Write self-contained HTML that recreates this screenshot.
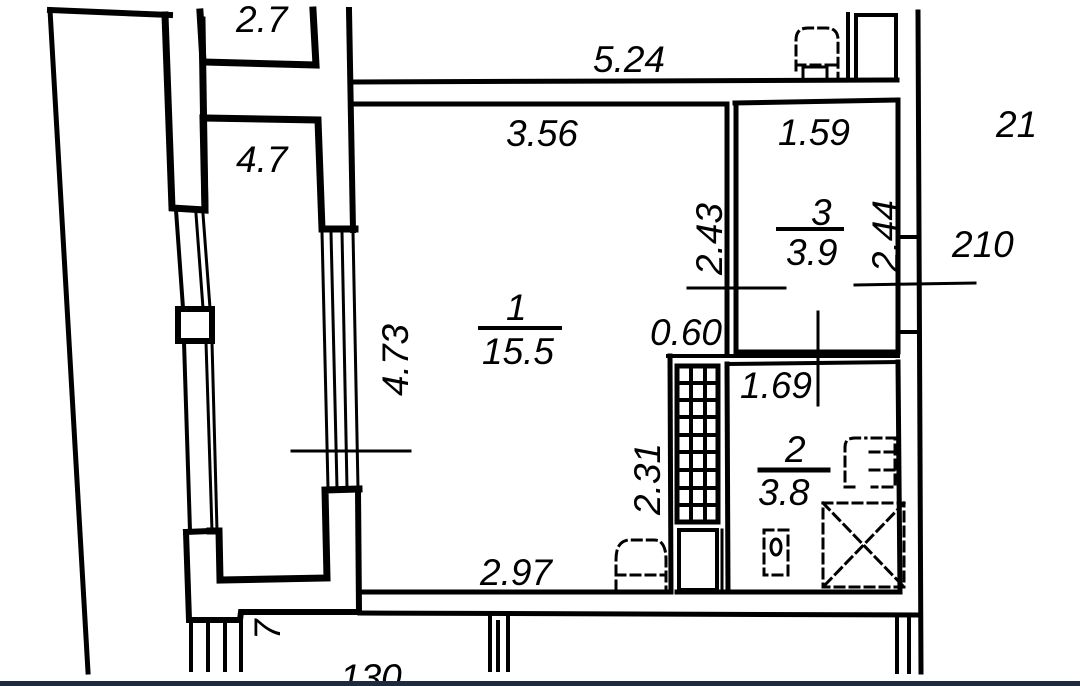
<!DOCTYPE html>
<html><head><meta charset="utf-8"><style>
html,body{margin:0;padding:0;background:#fff;}
svg{display:block}
text{font-family:"Liberation Sans",sans-serif;font-style:italic;font-size:37px;fill:#000}
</style></head><body>
<svg width="1080" height="686" viewBox="0 0 1080 686" xmlns="http://www.w3.org/2000/svg">
<rect width="1080" height="686" fill="#fff"/>
<g stroke="#000" fill="none" stroke-linecap="square">
<line x1="50" y1="10" x2="88" y2="672" stroke-width="5"/>
<line x1="50" y1="10" x2="170" y2="15" stroke-width="6"/>
<polyline points="165,15 172,208 205,210 202,20" stroke-width="7"/>
<line x1="176" y1="210" x2="183" y2="308" stroke-width="4"/>
<line x1="196" y1="214" x2="203" y2="308" stroke-width="3"/>
<line x1="203" y1="214" x2="210" y2="308" stroke-width="3"/>
<rect x="178" y="309" width="34" height="32" stroke-width="6"/>
<line x1="184" y1="342" x2="190" y2="531" stroke-width="4"/>
<line x1="206" y1="342" x2="212" y2="531" stroke-width="3"/>
<line x1="212" y1="342" x2="217" y2="531" stroke-width="3"/>
<polyline points="186,532 189,620 240,620 241,612 359,612 358,490" stroke-width="6"/>
<line x1="186" y1="532" x2="210" y2="531" stroke-width="6"/>
<polyline points="210,531 219,531 220,580 327,578 325,490 359,489" stroke-width="7"/>
<polyline points="200,12 203,62 316,65 313,10" stroke-width="7"/>
<polyline points="205,210 203,118 318,120 322,229 355,229" stroke-width="7"/>
<line x1="349" y1="10" x2="353" y2="230" stroke-width="6"/>
<line x1="322" y1="232" x2="328" y2="488" stroke-width="3"/>
<line x1="331" y1="232" x2="337" y2="488" stroke-width="3"/>
<line x1="342" y1="232" x2="347" y2="488" stroke-width="3"/>
<line x1="353" y1="232" x2="358" y2="488" stroke-width="3"/>
<line x1="353" y1="82" x2="897" y2="80" stroke-width="5"/>
<line x1="353" y1="104" x2="727" y2="104" stroke-width="5"/>
<line x1="735" y1="103" x2="897" y2="100" stroke-width="5"/>
<line x1="918" y1="12" x2="921" y2="672" stroke-width="5"/>
<line x1="898" y1="100" x2="898" y2="352" stroke-width="5"/>
<line x1="898" y1="362" x2="900" y2="592" stroke-width="5"/>
<line x1="898" y1="237" x2="918" y2="237" stroke-width="4"/>
<line x1="898" y1="332" x2="918" y2="332" stroke-width="4"/>
<line x1="848" y1="14" x2="848" y2="80" stroke-width="4"/>
<rect x="856" y="15" width="40" height="65" stroke-width="4"/>
<line x1="727" y1="104" x2="727" y2="352" stroke-width="5"/>
<line x1="736" y1="103" x2="736" y2="352" stroke-width="5"/>
<line x1="736" y1="352" x2="898" y2="352" stroke-width="5"/>
<line x1="668" y1="356" x2="898" y2="356" stroke-width="4"/>
<line x1="727" y1="364" x2="898" y2="362" stroke-width="4"/>
<line x1="670" y1="356" x2="671" y2="592" stroke-width="5"/>
<line x1="727" y1="364" x2="728" y2="592" stroke-width="5"/>
<line x1="362" y1="592" x2="668" y2="592" stroke-width="5"/>
<line x1="677" y1="592" x2="900" y2="592" stroke-width="5"/>
<line x1="360" y1="613" x2="918" y2="615" stroke-width="5"/>
<rect x="677" y="366" width="41" height="156" stroke-width="5"/>
<g stroke-width="4">
<line x1="691" y1="366" x2="691" y2="522"/><line x1="705" y1="366" x2="705" y2="522"/>
<line x1="677" y1="383" x2="718" y2="383"/><line x1="677" y1="400" x2="718" y2="400"/>
<line x1="677" y1="417" x2="718" y2="417"/><line x1="677" y1="435" x2="718" y2="435"/>
<line x1="677" y1="452" x2="718" y2="452"/><line x1="677" y1="470" x2="718" y2="470"/>
<line x1="677" y1="488" x2="718" y2="488"/><line x1="677" y1="505" x2="718" y2="505"/>
</g>
<rect x="679" y="530" width="38" height="60" stroke-width="4"/>
<line x1="722" y1="530" x2="722" y2="592" stroke-width="3"/>
<g stroke-width="4">
<line x1="191" y1="622" x2="191" y2="670"/><line x1="208" y1="622" x2="208" y2="670"/>
<line x1="225" y1="622" x2="225" y2="670"/><line x1="241" y1="622" x2="241" y2="670"/>
<line x1="490" y1="615" x2="490" y2="670"/><line x1="498" y1="622" x2="498" y2="670"/>
<line x1="508" y1="615" x2="508" y2="670"/>
<line x1="897" y1="617" x2="897" y2="672"/><line x1="909" y1="617" x2="909" y2="672"/>
</g>
<g stroke-width="3">
<line x1="292" y1="451" x2="410" y2="451"/>
<line x1="688" y1="288" x2="785" y2="288"/>
<line x1="855" y1="285" x2="975" y2="283"/>
<line x1="818" y1="312" x2="818" y2="405"/>
<line x1="480" y1="328" x2="560" y2="328" stroke-width="4"/>
<line x1="778" y1="229" x2="842" y2="229" stroke-width="4"/>
<line x1="760" y1="470" x2="828" y2="470" stroke-width="5"/>
</g>
<g stroke-width="3" stroke-dasharray="9,6">
<path d="M796,70 V40 Q796,28 808,28 H826 Q838,28 838,40 V80"/>
<line x1="796" y1="65" x2="838" y2="65"/>
<rect x="803" y="67" width="24" height="13" stroke-dasharray="none"/>
<path d="M616,590 V560 Q616,540 630,540 H654 Q666,540 666,560 V590"/>
<line x1="616" y1="575" x2="666" y2="575"/>
<path d="M854,487 H845 V447 Q845,438 855,438 H866 M872,438 H895 V487 H872"/>
<line x1="870" y1="452" x2="895" y2="452"/><line x1="870" y1="470" x2="895" y2="470"/>
<rect x="823" y="503" width="81" height="84"/>
<line x1="823" y1="503" x2="904" y2="587"/><line x1="904" y1="503" x2="823" y2="587"/>
<rect x="764" y="530" width="24" height="45"/>
</g>
<ellipse cx="776" cy="547" rx="5" ry="8" stroke-width="3"/>
</g>
<text x="236" y="32">2.7</text>
<text x="236" y="172">4.7</text>
<text x="593" y="72">5.24</text>
<text x="506" y="146">3.56</text>
<text x="778" y="145">1.59</text>
<text x="996" y="137">21</text>
<text x="952" y="257">210</text>
<text x="811" y="225">3</text>
<text x="786" y="265">3.9</text>
<text x="506" y="320">1</text>
<text x="482" y="364">15.5</text>
<text x="650" y="345">0.60</text>
<text x="740" y="398">1.69</text>
<text x="785" y="462">2</text>
<text x="758" y="505">3.8</text>
<text x="480" y="585">2.97</text>
<text x="340" y="690">130</text>
<text transform="translate(722,275) rotate(-90)">2.43</text>
<text transform="translate(898,272) rotate(-90)">2.44</text>
<text transform="translate(408,396) rotate(-90)">4.73</text>
<text transform="translate(660,515) rotate(-90)">2.31</text>
<text transform="translate(280,640) rotate(-90)">7</text>
<rect x="0" y="681" width="1080" height="5" fill="#1c2c3c"/>
</svg>
</body></html>
